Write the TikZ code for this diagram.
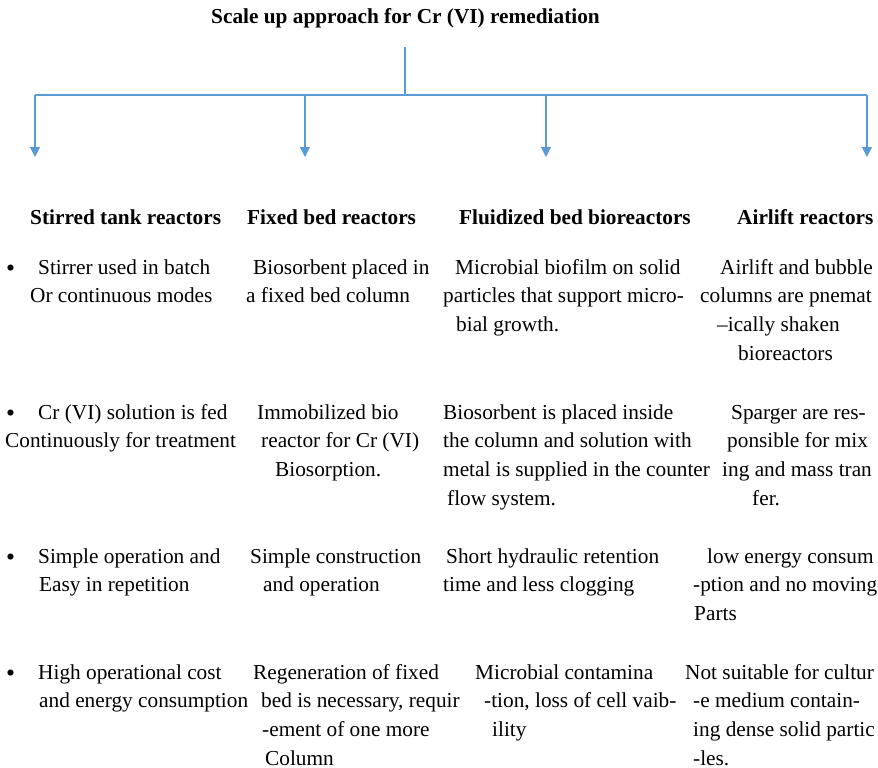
\documentclass[tikz,border=0pt]{standalone}
\usepackage{fontspec}
\usepackage{graphicx}
\setmainfont{Liberation Serif}
\usetikzlibrary{arrows.meta}
\definecolor{linkblue}{RGB}{91,155,213}
\newcommand{\bodyfont}{\fontsize{21.3}{28.7}\selectfont}
\newcommand{\bul}{\hspace*{1pt}\makebox[32pt][l]{\raisebox{-2.5pt}{\scalebox{1.2}{\textbullet}}}}

\begin{document}
\begin{tikzpicture}[x=1pt,y=-1pt]
\tikzset{
  cell/.style={anchor=north west,yshift=20.09pt,align=left,inner sep=0pt,font=\bodyfont},
  head/.style={anchor=base west,inner sep=0pt,font=\bfseries\bodyfont},
  conn/.style={line width=1.2pt,color=linkblue},
  drop/.style={conn,-{Triangle[width=10pt,length=10pt]}}
}
\useasboundingbox (0,0) rectangle (878,768);

% title and tree
\node (title) [anchor=base,inner sep=0pt,font=\bfseries\bodyfont] at (405.5,24) {Scale up approach for Cr (VI) remediation};
\coordinate (top) at (405,47);
\coordinate (hub) at (405,95);
\coordinate (b1) at (35,95);
\coordinate (b2) at (305,95);
\coordinate (b3) at (546,95);
\coordinate (b4) at (867,95);
\coordinate (t1) at (35,157);
\coordinate (t2) at (305,157);
\coordinate (t3) at (546,157);
\coordinate (t4) at (867,157);
\draw [conn] (top) -- (hub);
\draw [conn] (b1) -- (b4);
\foreach \i in {1,...,4}
  \draw [drop] (b\i) -- (t\i);

% headers
\node (hst) [head] at (30,224) {Stirred tank reactors};
\node (hfx) [head] at (247,224) {Fixed bed reactors};
\node (hfl) [head] at (459,224) {Fluidized bed bioreactors};
\node (hal) [head] at (737,224) {Airlift reactors};

% stirred tank
\node (st1) [cell] at (5,274) {\strut\bul Stirrer used in batch\\\hspace*{25pt}Or continuous modes};
\node (st2) [cell] at (5,419) {\strut\bul Cr (VI) solution is fed\\Continuously for treatment};
\node (st3) [cell] at (5,563) {\strut\bul Simple operation and\\\hspace*{34pt}Easy in repetition};
\node (st4) [cell] at (5,679) {\strut\bul High operational cost\\\hspace*{34pt}and energy consumption};

% fixed bed
\node (fx1) [cell] at (246,274) {\strut\hspace*{7pt}Biosorbent placed in\\a fixed bed column};
\node (fx2) [cell] at (257,419) {\strut Immobilized bio\\\hspace*{4pt}reactor for Cr (VI)\\\hspace*{18pt}Biosorption.};
\node (fx3) [cell] at (250,563) {\strut Simple construction\\\hspace*{13pt}and operation};
\node (fx4) [cell] at (253,679) {\strut Regeneration of fixed\\\hspace*{8pt}bed is necessary, requir\\\hspace*{9pt}-ement of one more\\\hspace*{12pt}Column};

% fluidized bed
\node (fl1) [cell] at (443,274) {\strut\hspace*{12pt}Microbial biofilm on solid\\particles that support micro-\\\hspace*{13pt}bial growth.};
\node (fl2) [cell] at (443,419) {\strut Biosorbent is placed inside\\the column and solution with\\metal is supplied in the counter\\\hspace*{4pt}flow system.};
\node (fl3) [cell] at (443,563) {\strut\hspace*{3pt}Short hydraulic retention\\time and less clogging};
\node (fl4) [cell] at (475,679) {\strut Microbial contamina\\\hspace*{9pt}-tion, loss of cell vaib-\\\hspace*{17pt}ility};

% airlift
\node (al1) [cell] at (700,274) {\strut\hspace*{20pt}Airlift and bubble\\columns are pnemat\\\hspace*{17pt}--ically shaken\\\hspace*{38pt}bioreactors};
\node (al2) [cell] at (722,419) {\strut\hspace*{9pt}Sparger are res-\\\hspace*{5pt}ponsible for mix\\ing and mass tran\\\hspace*{30pt}fer.};
\node (al3) [cell] at (693,563) {\strut\hspace*{14pt}low energy consum\\-ption and no moving\\\hspace*{1pt}Parts};
\node (al4) [cell] at (685,679) {\strut Not suitable for cultur\\\hspace*{8pt}-e medium contain-\\\hspace*{8pt}ing dense solid partic\\\hspace*{8pt}-les.};
\end{tikzpicture}
\end{document}
